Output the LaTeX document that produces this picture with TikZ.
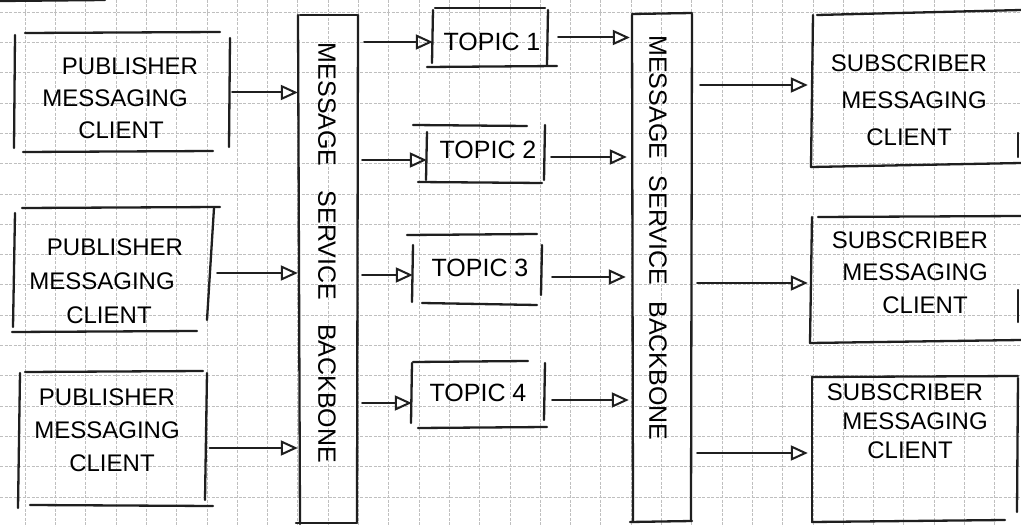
\documentclass[tikz,border=0pt]{standalone}
\usepackage{fontspec}
\setmainfont{Liberation Sans}
\usetikzlibrary{arrows.meta}
\tikzset{
  pen/.style={line width=2.3pt, line cap=round, black!88},
  boxgeom/.style={draw=none, inner sep=0pt},
  lbl/.style={align=center, inner sep=0pt, font=\fontsize{24}{34}\selectfont},
  toplbl/.style={inner sep=0pt, font=\fontsize{25}{30}\selectfont},
  vlbl/.style={inner sep=0pt, rotate=-90, font=\fontsize{25}{30}\selectfont},
  arr/.style={pen, line width=2pt, -{Triangle[open,length=17pt,width=15pt,line width=2pt]}},
  gridline/.style={black!25, line width=0.6pt, dash pattern=on 3pt off 1.5pt}
}
\begin{document}
\begin{tikzpicture}[x=1pt,y=-1pt]
\useasboundingbox (0,0) rectangle (1021,527);
\fill[white] (0,0) rectangle (1021,527);
% paper grid
\foreach \i in {0,...,32} \draw[gridline] ({25+30.3*\i},0) -- ({25+30.3*\i},527);
\foreach \j in {0,...,17} \draw[gridline] (0,{12+30.3*\j}) -- (1021,{12+30.3*\j});
% fragment at top left
\draw[pen] (0,1) -- (105,0);

% ---------- publishers ----------
\node[boxgeom, minimum width=215pt, minimum height=119pt] (pub1) at (122.5,92.5) {};
\draw[pen] (25,33) -- (220,32);
\draw[pen] (15,35) -- (14,148);
\draw[pen] (230,38) -- (229,147);
\draw[pen] (23,152) -- (213,151);
\node[lbl, font=\fontsize{24}{32}\selectfont] (pub1t) at (115,98) {\hspace*{30pt}PUBLISHER\\MESSAGING\\\hspace*{12pt}CLIENT};

\node[boxgeom, minimum width=200pt, minimum height=124pt] (pub2) at (115,270) {};
\draw[pen] (22,208) -- (220,207);
\draw[pen] (15,213) -- (13,327);
\draw[pen] (214,208) -- (207,320);
\draw[pen] (12,332) -- (197,331);
\node[lbl, font=\fontsize{24}{34}\selectfont] (pub2t) at (102,281) {\hspace*{26pt}PUBLISHER\\MESSAGING\\\hspace*{14pt}CLIENT};

\node[boxgeom, minimum width=190pt, minimum height=134pt] (pub3) at (112.5,439) {};
\draw[pen] (25,372) -- (203,371);
\draw[pen] (20,373) -- (18,508);
\draw[pen] (207,373) -- (205,500);
\draw[pen] (30,505) -- (213,506);
\node[lbl, font=\fontsize{24}{33}\selectfont] (pub3t) at (107,430) {PUBLISHER\\MESSAGING\\\hspace*{10pt}CLIENT};

% ---------- backbone 1 ----------
\node[boxgeom, minimum width=60pt, minimum height=508pt] (bb1) at (328,269) {};
\draw[pen] (298,15) -- (300,524);
\draw[pen] (358,15) -- (357,522);
\draw[pen] (300,15) -- (357,15);
\draw[pen] (296,523) -- (357,523);
\node[vlbl] (bb1t) at (327,253) {\makebox[420pt][s]{MESSAGE SERVICE BACKBONE}};

% ---------- topics ----------
\node[boxgeom, minimum width=115pt, minimum height=59pt] (t1) at (490.5,37.5) {};
\draw[pen] (435,8) -- (545,8);
\draw[pen] (433,10) -- (432,63);
\draw[pen] (548,10) -- (547,65);
\draw[pen] (427,67) -- (557,66);
\node[toplbl] (t1t) at (492,42) {TOPIC 1};

\node[boxgeom, minimum width=118pt, minimum height=57pt] (t2) at (486,153.5) {};
\draw[pen] (413,125) -- (527,126);
\draw[pen] (427,132) -- (426,180);
\draw[pen] (545,125) -- (544,180);
\draw[pen] (418,182) -- (542,183);
\node[toplbl] (t2t) at (488,150) {TOPIC 2};

\node[boxgeom, minimum width=129pt, minimum height=68pt] (t3) at (477.5,269) {};
\draw[pen] (407,235) -- (537,234);
\draw[pen] (413,245) -- (412,302);
\draw[pen] (542,245) -- (541,295);
\draw[pen] (422,303) -- (537,305);
\node[toplbl] (t3t) at (480,268) {TOPIC 3};

\node[boxgeom, minimum width=133pt, minimum height=66pt] (t4) at (478.5,395) {};
\draw[pen] (413,362) -- (528,361);
\draw[pen] (412,363) -- (411,423);
\draw[pen] (545,363) -- (544,420);
\draw[pen] (418,428) -- (547,427);
\node[toplbl] (t4t) at (478,393) {TOPIC 4};

% ---------- backbone 2 ----------
\node[boxgeom, minimum width=60pt, minimum height=507pt] (bb2) at (662,268.5) {};
\draw[pen] (632,15) -- (633,522);
\draw[pen] (692,14) -- (691,521);
\draw[pen] (632,14) -- (692,13);
\draw[pen] (630,522) -- (692,521);
\node[vlbl] (bb2t) at (658,238) {\makebox[405pt][s]{MESSAGE SERVICE BACKBONE}};

% ---------- subscribers ----------
\node[boxgeom, minimum width=210pt, minimum height=152pt] (sub1) at (917,90) {};
\draw[pen] (817,15) -- (1021,10);
\draw[pen] (813,15) -- (811,167);
\draw[pen] (811,167) -- (1021,163);
\draw[pen] (1018,133) -- (1018,157);
\node[lbl, font=\fontsize{24}{37}\selectfont] (sub1t) at (909,100) {SUBSCRIBER\\\hspace*{10pt}MESSAGING\\CLIENT};

\node[boxgeom, minimum width=210pt, minimum height=126pt] (sub2) at (917,279.5) {};
\draw[pen] (818,217) -- (1021,216);
\draw[pen] (812,217) -- (810,343);
\draw[pen] (810,343) -- (1021,340);
\draw[pen] (1018,290) -- (1018,322);
\node[lbl, font=\fontsize{24}{32.5}\selectfont] (sub2t) at (910,272.5) {SUBSCRIBER\\\hspace*{10pt}MESSAGING\\\hspace*{30pt}CLIENT};

\node[boxgeom, minimum width=206pt, minimum height=145pt] (sub3) at (915,449.5) {};
\draw[pen] (812,377) -- (1018,376);
\draw[pen] (812,377) -- (812,522);
\draw[pen] (1018,378) -- (1017,512);
\draw[pen] (812,522) -- (1005,520);
\node[lbl, font=\fontsize{24}{29}\selectfont] (sub3t) at (905,421) {SUBSCRIBER\\\hspace*{20pt}MESSAGING\\\hspace*{10pt}CLIENT};

% ---------- connectors ----------
\draw[arr, shorten <=2pt] (pub1.east) -- (pub1.east -| bb1.west);
\draw[arr, shorten <=2pt] ([yshift=-3pt]pub2.east) -- ([yshift=-3pt]pub2.east -| bb1.west);
\draw[arr, shorten <=2pt] ([yshift=-9pt]pub3.east) -- ([yshift=-9pt]pub3.east -| bb1.west);

\draw[arr, shorten <=6pt] ([yshift=-4.5pt]t1.west -| bb1.east) -- ([yshift=-4.5pt]t1.west);
\draw[arr, shorten <=4pt] ([yshift=-6.5pt]t2.west -| bb1.east) -- ([yshift=-6.5pt]t2.west);
\draw[arr, shorten <=4pt] ([yshift=-6pt]t3.west -| bb1.east) -- ([yshift=-6pt]t3.west);
\draw[arr, shorten <=4pt] ([yshift=-8pt]t4.west -| bb1.east) -- ([yshift=-8pt]t4.west);

\draw[arr, shorten <=10pt, shorten >=2pt] (t1.east) -- (t1.east -| bb2.west);
\draw[arr, shorten <=6pt, shorten >=5pt] ([yshift=-3.5pt]t2.east) -- ([yshift=-3.5pt]t2.east -| bb2.west);
\draw[arr, shorten <=10pt, shorten >=6pt] ([yshift=-8pt]t3.east) -- ([yshift=-8pt]t3.east -| bb2.west);
\draw[arr, shorten <=7pt, shorten >=3pt] ([yshift=-5pt]t4.east) -- ([yshift=-5pt]t4.east -| bb2.west);

\draw[arr, shorten <=8pt, shorten >=4pt] ([yshift=5pt]sub1.west -| bb2.east) -- ([yshift=5pt]sub1.west);
\draw[arr, shorten <=5pt, shorten >=4pt] ([yshift=-3.5pt]sub2.west -| bb2.east) -- ([yshift=-3.5pt]sub2.west);
\draw[arr, shorten <=5pt, shorten >=4pt] ([yshift=-3.5pt]sub3.west -| bb2.east) -- ([yshift=-3.5pt]sub3.west);
\end{tikzpicture}
\end{document}
